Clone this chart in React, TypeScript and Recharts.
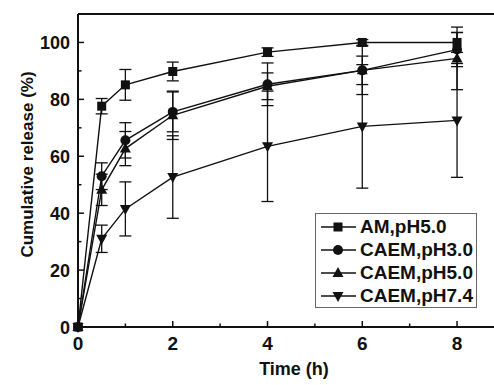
import { LineChart, Line, XAxis, YAxis, ErrorBar, ReferenceLine } from 'recharts';

const time = [0, 0.5, 1, 2, 4, 6, 8];
const amPh50 = [0, 77.6, 85.1, 89.8, 96.6, 100, 100];
const amPh50Err = [0, 2.7, 5.4, 3.3, 1.5, 1.0, 3.5];
const caemPh30 = [0, 53.0, 65.6, 75.6, 85.3, 90.2, 97.5];
const caemPh30Err = [0, 4.7, 6.2, 7.0, 7.5, 5.0, 6.0];
const caemPh50 = [0, 48.2, 62.7, 74.4, 84.6, 90.2, 94.4];
const caemPh50Err = [0, 5.5, 6.0, 8.5, 4.7, 8.5, 11.0];
const caemPh74 = [0, 31.0, 41.5, 52.7, 63.5, 70.5, 72.6];
const caemPh74Err = [0, 4.8, 9.5, 14.5, 19.4, 21.7, 20.0];

const xTicks = [0, 1, 2, 3, 4, 5, 6, 7, 8];
const yTicks = [0, 10, 20, 30, 40, 50, 60, 70, 80, 90, 100];

const series = [
  { key: 'am', name: 'AM,pH5.0', shape: 'square' },
  { key: 'c3', name: 'CAEM,pH3.0', shape: 'circle' },
  { key: 'c5', name: 'CAEM,pH5.0', shape: 'triangle' },
  { key: 'c74', name: 'CAEM,pH7.4', shape: 'down' },
];

const data = time.map((t, i) => ({
  t,
  am: amPh50[i],
  amErr: amPh50Err[i],
  c3: caemPh30[i],
  c3Err: caemPh30Err[i],
  c5: caemPh50[i],
  c5Err: caemPh50Err[i],
  c74: caemPh74[i],
  c74Err: caemPh74Err[i],
}));

const FONT = 'Arial, "Liberation Sans", Helvetica, sans-serif';

function Marker({ cx, cy, shape }: { cx: number; cy: number; shape: string }) {
  if (cx == null || cy == null) return null;
  if (shape === 'square') return <rect x={cx - 4.5} y={cy - 4.5} width={9} height={9} fill="#111" />;
  if (shape === 'circle') return <circle cx={cx} cy={cy} r={5} fill="#111" />;
  if (shape === 'triangle')
    return <polygon points={`${cx},${cy - 6} ${cx - 5.5},${cy + 4} ${cx + 5.5},${cy + 4}`} fill="#111" />;
  return <polygon points={`${cx},${cy + 6} ${cx - 5.5},${cy - 4} ${cx + 5.5},${cy - 4}`} fill="#111" />;
}

const XTick = (props: any) => {
  const { x, y, payload } = props;
  const major = payload.value % 2 === 0;
  return (
    <g>
      <line x1={x} x2={x} y1={y} y2={y - (major ? 6 : 3.5)} stroke="#111" strokeWidth={1.5} />
      {major && (
        <text x={x} y={y + 23} textAnchor="middle" fontSize={19} fontWeight="bold" fill="#111" fontFamily={FONT}>
          {payload.value}
        </text>
      )}
    </g>
  );
};

const YTick = (props: any) => {
  const { x, y, payload } = props;
  const major = payload.value % 20 === 0;
  return (
    <g>
      <line x1={x} x2={x + (major ? 6 : 3.5)} y1={y} y2={y} stroke="#111" strokeWidth={1.5} />
      {major && (
        <text x={x - 8} y={y + 7} textAnchor="end" fontSize={18} fontWeight="bold" fill="#111" fontFamily={FONT}>
          {payload.value}
        </text>
      )}
    </g>
  );
};

function LegendBox() {
  return (
    <div
      style={{
        position: 'absolute',
        left: 315,
        top: 213,
        border: '1px solid #666',
        background: '#fff',
        width: 162,
        height: 95,
        boxSizing: 'border-box',
        padding: '1px 0 0 4px',
        fontFamily: FONT,
        fontWeight: 'bold',
        fontSize: 19,
        color: '#111',
      }}
    >
      {series.map((s) => (
        <div key={s.key} style={{ display: 'flex', alignItems: 'center', height: 23, whiteSpace: 'nowrap' }}>
          <svg width={38} height={20} style={{ marginRight: 2, flexShrink: 0 }}>
            <line x1={1} x2={36} y1={10} y2={10} stroke="#111" strokeWidth={1.5} />
            <Marker cx={18} cy={10} shape={s.shape} />
          </svg>
          <span>{s.name}</span>
        </div>
      ))}
    </div>
  );
}

export default function App() {
  return (
    <div style={{ position: 'absolute', left: 0, top: 0, width: 494, height: 385, background: '#fff' }}>
      <LineChart width={494} height={385} data={data} margin={{ top: 14, right: 0, bottom: 0, left: 0 }}>
        <XAxis
          dataKey="t"
          type="number"
          domain={[0, 8.78]}
          ticks={xTicks}
          interval={0}
          tick={<XTick />}
          tickLine={false}
          tickSize={0}
          tickMargin={0}
          height={58}
          axisLine={{ stroke: '#111', strokeWidth: 2 }}
          label={{
            value: 'Time (h)',
            position: 'insideBottom',
            offset: 10,
            dx: 8,
            style: { fontSize: 18, fontWeight: 'bold', fill: '#111', fontFamily: FONT },
          }}
        />
        <YAxis
          type="number"
          domain={[0, 110]}
          ticks={yTicks}
          interval={0}
          tick={<YTick />}
          tickLine={false}
          tickSize={0}
          tickMargin={0}
          width={78}
          axisLine={{ stroke: '#111', strokeWidth: 2 }}
          label={{
            value: 'Cumulative release (%)',
            angle: -90,
            position: 'insideLeft',
            offset: 27,
            dy: -6,
            style: { fontSize: 17, fontWeight: 'bold', fill: '#111', fontFamily: FONT, textAnchor: 'middle' },
          }}
        />
        <ReferenceLine y={110} stroke="#111" strokeWidth={2} />
        {series.map((s) => (
          <Line
            key={s.key}
            dataKey={s.key}
            name={s.name}
            type="linear"
            stroke="#111"
            strokeWidth={1.4}
            isAnimationActive={false}
            dot={(p: any) => <Marker key={`${s.key}-${p.index}`} cx={p.cx} cy={p.cy} shape={s.shape} />}
            activeDot={false}
          >
            <ErrorBar dataKey={`${s.key}Err`} width={6} stroke="#111" strokeWidth={1.3} direction="y" />
          </Line>
        ))}
      </LineChart>
      <LegendBox />
    </div>
  );
}
